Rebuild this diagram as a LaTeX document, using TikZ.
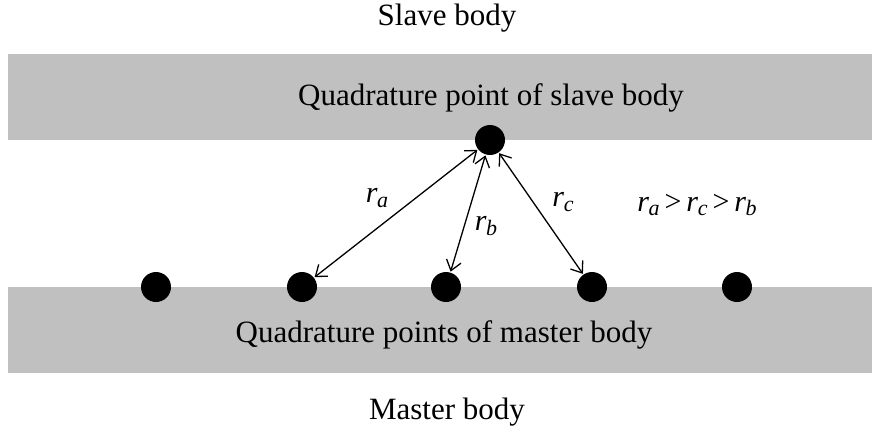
\documentclass[tikz,border=0pt]{standalone}
\usepackage{fontspec}
\setmainfont{Liberation Serif}
\usetikzlibrary{arrows.meta}
\definecolor{bandgray}{HTML}{C0C0C0}
\newcommand{\rsub}[1]{\textit{r}\kern-0.5pt\raisebox{-0.35ex}{\fontsize{22}{24}\selectfont\textit{#1}}}
\begin{document}
\begin{tikzpicture}[x=1pt,y=-1pt,
  dot/.style={circle,fill=black,inner sep=0pt,minimum size=30pt,outer sep=1pt},
  band/.style={fill=bandgray,draw=none},
  txt/.style={font=\fontsize{31}{34}\selectfont,inner sep=0pt},
  lbl/.style={font=\fontsize{30}{34}\selectfont,inner sep=0pt},
  dist/.style={draw,line width=1.3pt,{Straight Barb[length=10pt,width=15pt]}-{Straight Barb[length=10pt,width=15pt]}}]
\useasboundingbox (0,0) rectangle (872,437);
\fill[band] (8,54) rectangle (872,140);
\fill[band] (8,287) rectangle (872,373);
\node[txt] (slave) at (447,18) {Slave body};
\node[txt] (qs) at (491,98) {Quadrature point of slave body};
\node[txt] (qm) at (444,335) {Quadrature points of master body};
\node[txt] (master) at (447,412) {Master body};
\node[dot] (s) at (490,140) {};
\node[dot] (m1) at (156,287) {};
\node[dot] (m2) at (302,287) {};
\node[dot] (m3) at (446,287) {};
\node[dot] (m4) at (592,287) {};
\node[dot] (m5) at (737,287) {};
\draw[dist] (s) -- (m2);
\draw[dist] (s) -- (m3);
\draw[dist] (s) -- (m4);
\node[lbl] (ra) at (377,198) {\rsub{a}};
\node[lbl] (rb) at (486,226) {\rsub{b}};
\node[lbl] (rc) at (563,202) {\rsub{c}};
\node[lbl] (rel) at (697,205) {\rsub{a}\,>\,\rsub{c}\,>\,\rsub{b}};
\end{tikzpicture}
\end{document}
